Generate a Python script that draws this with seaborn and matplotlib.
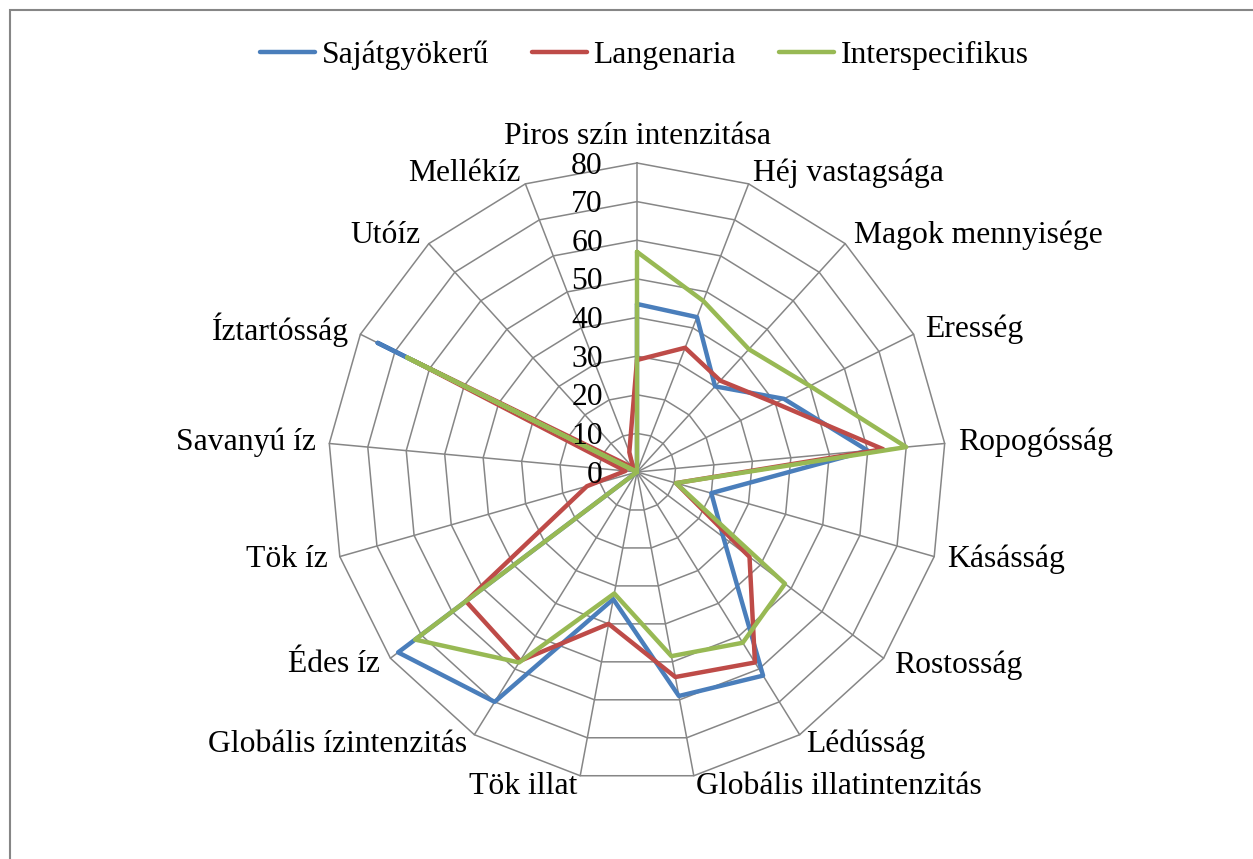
import numpy as np
import pandas as pd
import matplotlib
matplotlib.use("Agg")
import matplotlib.pyplot as plt
from matplotlib.patches import Rectangle
import seaborn as sns

sns.set_style("white")
plt.rcParams["font.family"] = ["Liberation Serif", "DejaVu Serif"]
plt.rcParams["text.color"] = "black"

categories = ["Piros szín intenzitása", "Héj vastagsága", "Magok mennyisége", "Eresség",
              "Ropogósság", "Kásásság", "Rostosság", "Lédússág",
              "Globális illatintenzitás", "Tök illat", "Globális ízintenzitás", "Édes íz",
              "Tök íz", "Savanyú íz", "Íztartósság", "Utóíz", "Mellékíz"]
sajatgyokeru = [43.5, 43, 30, 42.5, 60, 20, 28, 62, 59, 33.5, 70, 77.5, 0, 0, 75, 0, 0]
langenaria = [29, 34.5, 32, 40, 64, 10.5, 36.5, 58, 54, 40, 57.5, 55.5, 13.5, 3, 65, 1.5, 5.5]
interspecifikus = [57, 47.5, 43, 50, 70, 10.5, 48, 52, 48.5, 32, 58, 72, 0, 0, 66.5, 0, 0]
series_names = ["Sajátgyökerű", "Langenaria", "Interspecifikus"]
levels = [0, 10, 20, 30, 40, 50, 60, 70, 80]

colors = {"Sajátgyökerű": "#4A7EBB", "Langenaria": "#BE4B48", "Interspecifikus": "#98B954"}
grid_col = "#868686"
fs = 22.8

n = len(categories)
theta = np.linspace(0, 2 * np.pi, n, endpoint=False)
theta_closed = np.append(theta, 2 * np.pi)

rows = []
for name, vals in zip(series_names, [sajatgyokeru, langenaria, interspecifikus]):
    vv = list(vals) + [vals[0]]
    for t, v in zip(theta_closed, vv):
        rows.append({"theta": t, "value": v, "series": name})
df = pd.DataFrame(rows)

W, H = 1253, 859
fig = plt.figure(figsize=(W / 100, H / 100), dpi=100)
cx, cy, R = 637, 472, 309
ax = fig.add_axes([(cx - R) / W, (H - cy - R) / H, 2 * R / W, 2 * R / H], projection="polar")
ax.set_theta_zero_location("N")
ax.set_theta_direction(-1)

sns.lineplot(data=df, x="theta", y="value", hue="series", hue_order=series_names,
             palette=colors, sort=False, estimator=None, linewidth=3.2,
             legend=False, ax=ax, zorder=3)
handles = ax.get_lines()[:3]

# polygon grid
for lvl in levels[1:]:
    ax.plot(theta_closed, [lvl] * len(theta_closed), color=grid_col, lw=1.1,
            zorder=1, clip_on=False)
for t in theta:
    ax.plot([t, t], [0, levels[-1]], color=grid_col, lw=1.1, zorder=1, clip_on=False)

ax.set_ylim(0, levels[-1])
ax.axis("off")

# radial tick labels
for lvl in levels:
    ax.annotate(str(lvl), xy=(0, lvl), xytext=(-34, -3), textcoords="offset pixels",
                ha="right", va="center", fontsize=fs, annotation_clip=False)

# category labels
for t, lab in zip(theta, categories):
    s, c = np.sin(t), np.cos(t)
    if abs(s) < 1e-6:
        ax.annotate(lab, xy=(t, levels[-1]), xytext=(0, 12), textcoords="offset pixels",
                    ha="center", va="bottom", fontsize=fs, annotation_clip=False)
    else:
        ax.annotate(lab, xy=(t, levels[-1]), xytext=(13 * s, 11 * c),
                    textcoords="offset pixels", ha="left" if s > 0 else "right",
                    va="center", fontsize=fs, annotation_clip=False)

fig.legend(handles, series_names, loc="center", bbox_to_anchor=(0.514, 1 - 55 / H),
           ncol=3, frameon=False, fontsize=fs, handlelength=1.75, handletextpad=0.2,
           columnspacing=1.35)

fig.add_artist(Rectangle((10 / W, -0.1), 1.5, 1.1 - 10 / H, transform=fig.transFigure,
                         fill=False, edgecolor=grid_col, lw=1.5))

fig.savefig("out.png", dpi=100)
